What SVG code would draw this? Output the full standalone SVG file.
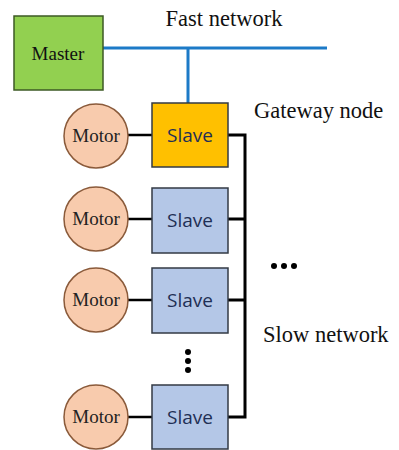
<svg xmlns="http://www.w3.org/2000/svg" width="399" height="450" viewBox="0 0 399 450">
<style>
.serif{font-family:"Liberation Serif","Times New Roman",serif;fill:#111}
.lbl{font-size:22.5px}
.motor circle{fill:#F8CBAD;stroke:#8A5A3A;stroke-width:1.5}
.motor text{font-family:"Liberation Serif",serif;font-size:19px;fill:#222;text-anchor:middle}
.slave rect{stroke:#333a44;stroke-width:1.5}
.slave text{font-family:"Open Sans","Liberation Sans",sans-serif;font-size:19px;fill:#1F2F55;text-anchor:middle}
.bus{stroke:#000;stroke-width:3;fill:none}
.link{stroke:#000;stroke-width:2.5}
.fast{stroke:#1C7AC7;stroke-width:3;fill:none}
.dot{fill:#000}
</style>
<rect width="399" height="450" fill="#fff"/>
<g id="connectors">
<path class="fast" d="M103 48H327M188 48V103"/>
<path class="bus" d="M228 135H245V417H228M228 219H245M228 300H245"/>
<path class="link" d="M128 135H152M128 219H152M128 300H152M128 417H152"/>
</g>
<g id="master">
<rect x="14" y="16" width="89" height="74" fill="#92D050" stroke="#3d5a24" stroke-width="1.5"/>
<text class="serif" x="58" y="60" font-size="19" text-anchor="middle">Master</text>
</g>
<text class="serif lbl" x="224" y="26" text-anchor="middle">Fast network</text>
<text class="serif lbl" x="254" y="118">Gateway node</text>
<text class="serif lbl" x="263" y="342">Slow network</text>
<g id="motor1" class="motor"><circle cx="96" cy="136" r="32"/><text x="96" y="142">Motor</text></g>
<g id="motor2" class="motor"><circle cx="96" cy="219" r="32"/><text x="96" y="225">Motor</text></g>
<g id="motor3" class="motor"><circle cx="96" cy="300" r="32"/><text x="96" y="306">Motor</text></g>
<g id="motor4" class="motor"><circle cx="96" cy="417" r="32"/><text x="96" y="423">Motor</text></g>
<g id="slave1" class="slave"><rect x="152" y="103" width="76" height="64" fill="#FFC000"/><text x="190" y="142">Slave</text></g>
<g id="slave2" class="slave"><rect x="152" y="188" width="76" height="65" fill="#B4C7E7"/><text x="190" y="227">Slave</text></g>
<g id="slave3" class="slave"><rect x="152" y="268" width="76" height="65" fill="#B4C7E7"/><text x="190" y="307">Slave</text></g>
<g id="slave4" class="slave"><rect x="152" y="385" width="76" height="64" fill="#B4C7E7"/><text x="190" y="424">Slave</text></g>
<g id="dots">
<circle class="dot" cx="274" cy="266" r="3"/><circle class="dot" cx="284" cy="266" r="3"/><circle class="dot" cx="294" cy="266" r="3"/>
<circle class="dot" cx="188" cy="352" r="3"/><circle class="dot" cx="188" cy="361" r="3"/><circle class="dot" cx="188" cy="370" r="3"/>
</g>
</svg>
